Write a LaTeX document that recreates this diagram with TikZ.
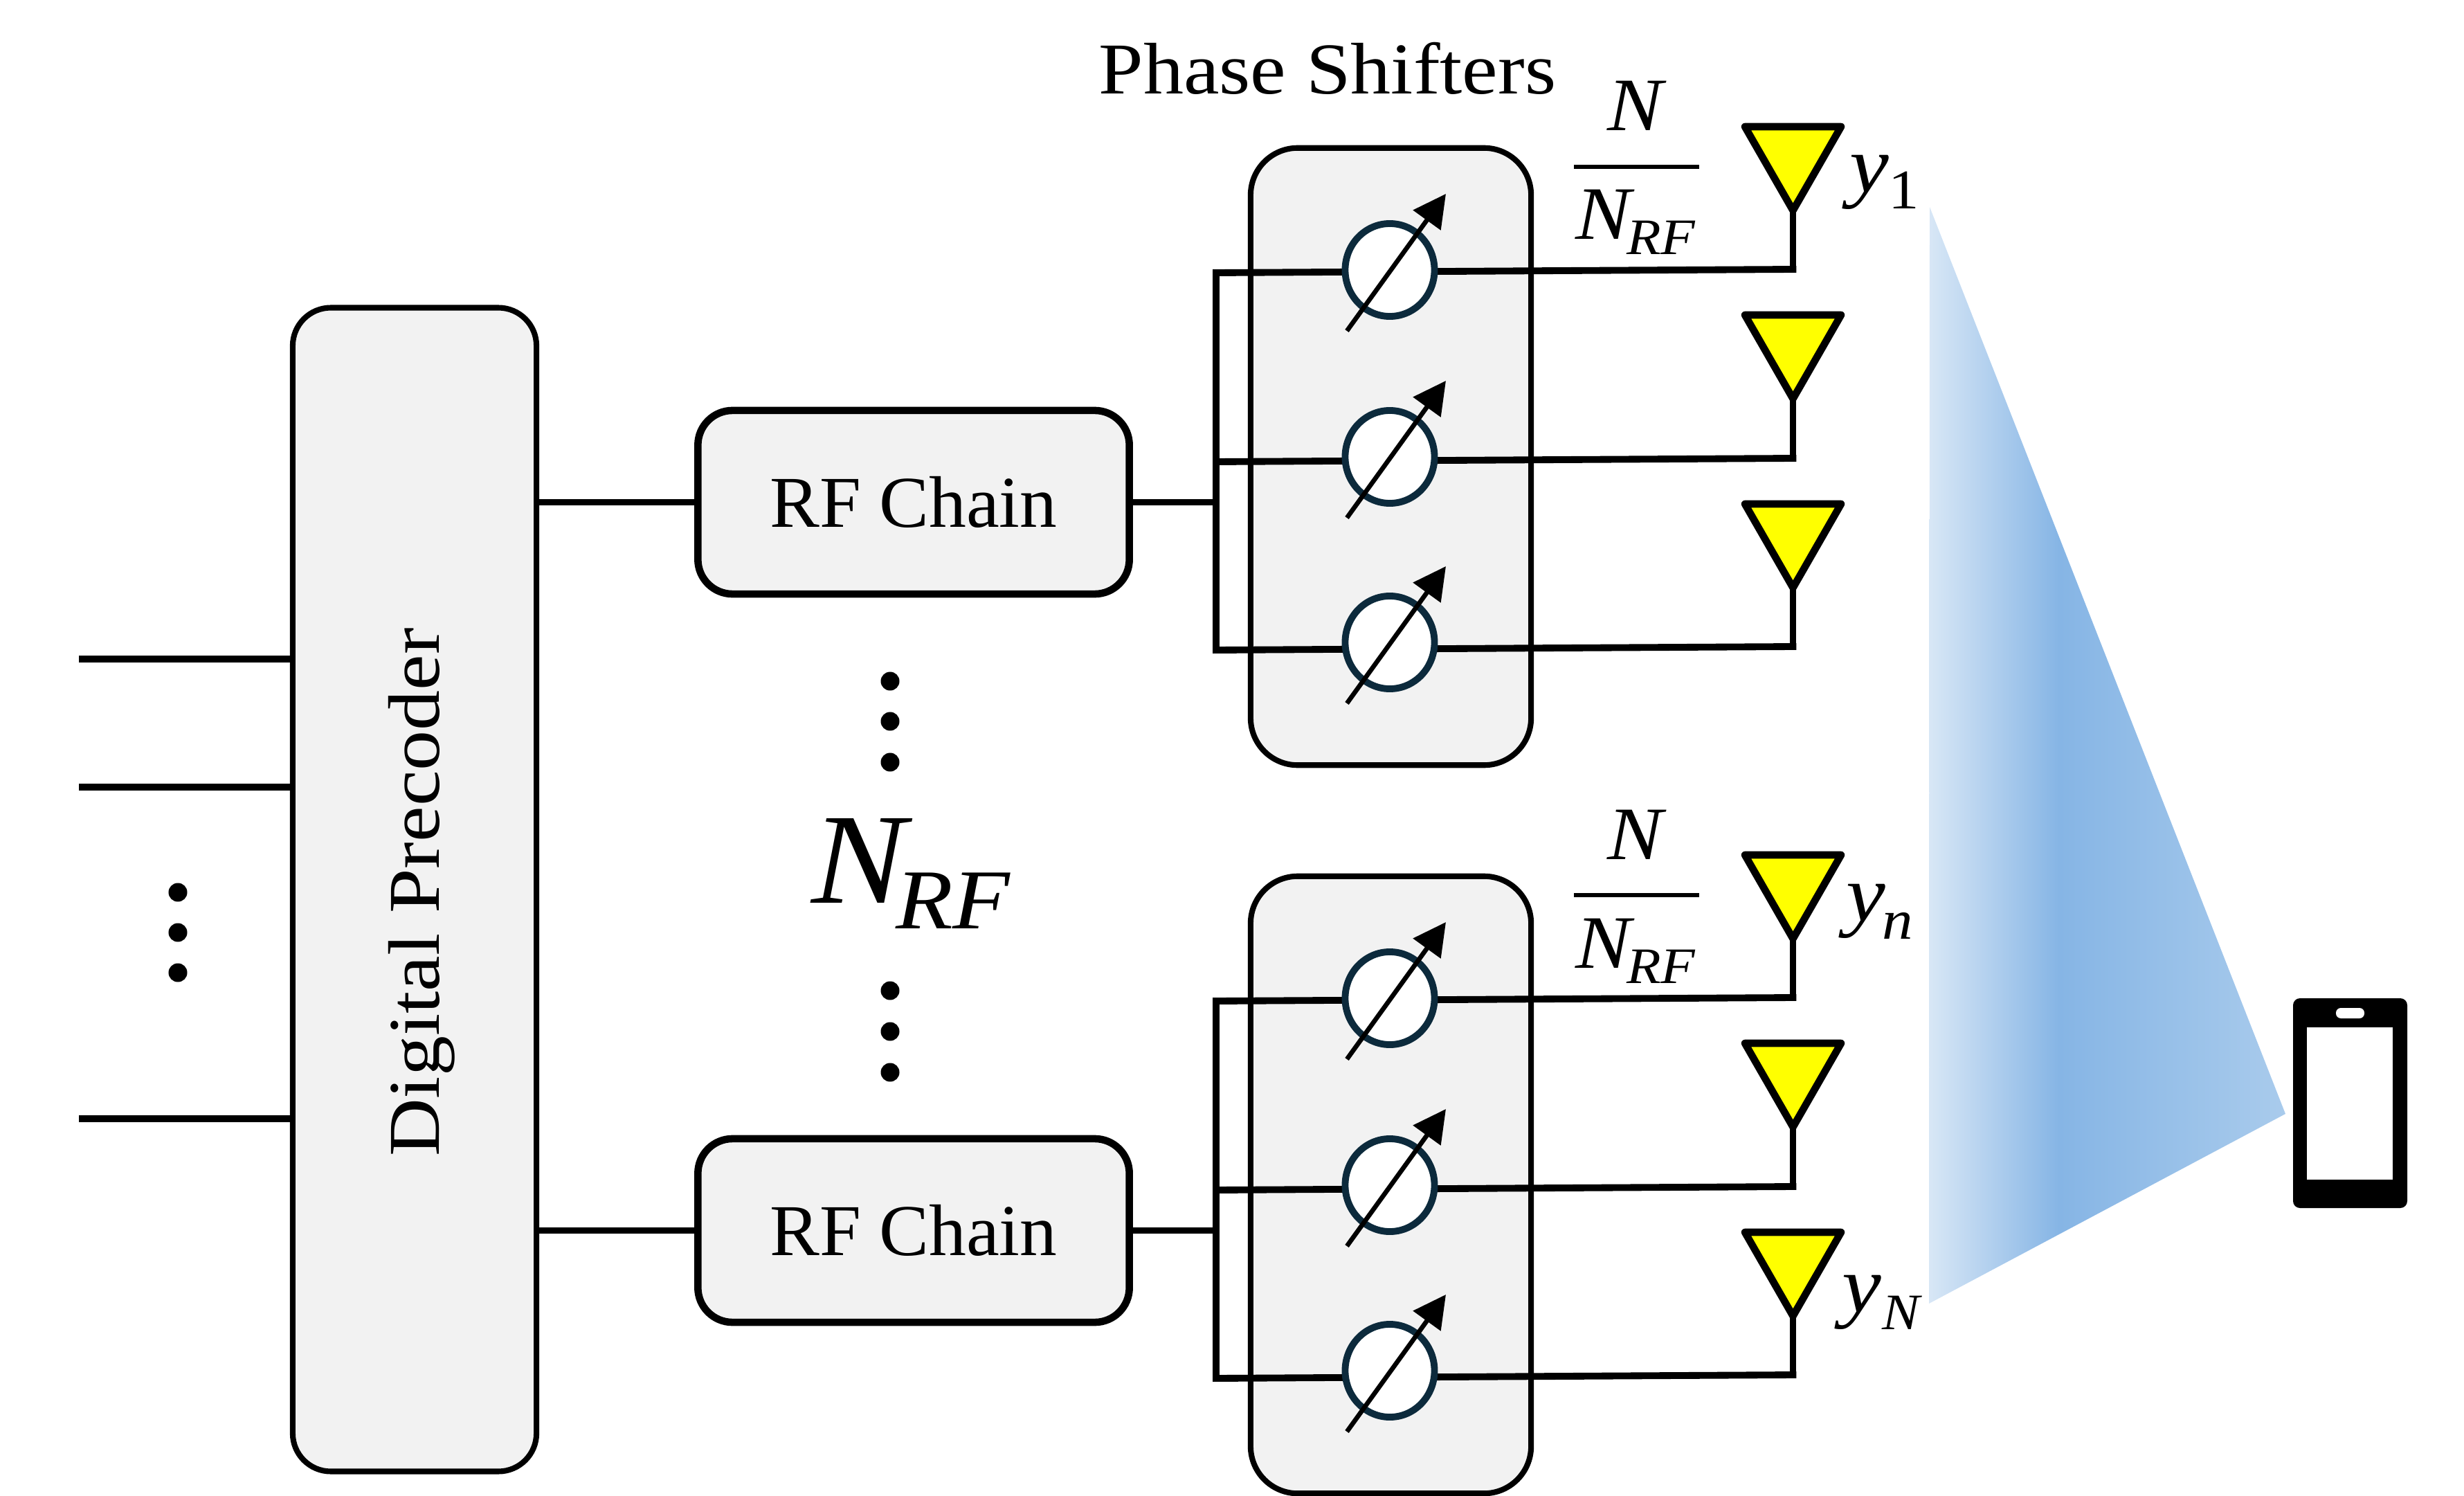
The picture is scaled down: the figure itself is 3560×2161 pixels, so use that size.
\documentclass[tikz,border=0pt]{standalone}
\usepackage{fontspec}
\setmainfont[FakeStretch=1.1]{Liberation Serif}
\newfontfamily\rffont[FakeStretch=1.02]{Liberation Serif}
\usetikzlibrary{arrows.meta,shapes.geometric}
\definecolor{boxfill}{HTML}{F2F2F2}
\definecolor{shiftline}{HTML}{0C2A3C}
\definecolor{antfill}{HTML}{FFFF00}
\definecolor{beamA}{HTML}{D8E7F6}
\definecolor{beamB}{HTML}{86B5E5}
\definecolor{beamC}{HTML}{A9CBEC}
\pgfdeclarehorizontalshading{beamshade}{100bp}{color(0bp)=(beamA); color(25bp)=(beamA); color(43.2bp)=(beamB); color(75bp)=(beamC); color(100bp)=(beamC)}
\newcommand{\fsz}[1]{\fontsize{#1}{#1}\selectfont}
\tikzset{
  wire/.style={line width=2.8pt,black},
  box/.style={draw=black,fill=boxfill,inner sep=0pt,outer sep=0pt,line width=2.3pt},
  rfbox/.style={box,line width=3pt,minimum width=6.23cm,minimum height=2.65cm,rounded corners=0.5cm,font=\rffont\fsz{30}},
  psbox/.style={box,line width=2.3pt,minimum width=4.05cm,minimum height=8.91cm,rounded corners=0.68cm},
  shifter/.style={ellipse,draw=shiftline,fill=white,line width=2.8pt,inner sep=0pt,outer sep=0pt,minimum width=1.29cm,minimum height=1.34cm},
  tune/.style={line width=1.9pt,black,-{Triangle[length=0.47cm,width=0.48cm]}},
  ant/.style={draw=black,fill=antfill,line width=3pt,line join=round},
  lbl/.style={inner sep=0pt,outer sep=0pt},
  vdot/.style={circle,fill=black,inner sep=0pt,minimum size=0.27cm}
}
\begin{document}
\begin{tikzpicture}[x=0.01cm,y=-0.01cm]
\useasboundingbox (0,0) rectangle (3560,2161);
% beam
\shade[shading=beamshade] (2788,299) -- (3302,1609) -- (2787,1883) -- cycle;
% precoder
\node[box,rounded corners=0.55cm,minimum width=3.52cm,minimum height=16.8cm] (dp) at (599,1285) {};
\node[lbl,rotate=90,anchor=base,font=\fsz{30}] (dptext) at (634,1289) {Digital Precoder};
% inputs
\foreach \n/\yy in {1/952,2/1137,3/1616}{
  \coordinate (in\n) at (114,\yy);
  \coordinate (inE\n) at (423,\yy);
  \draw[wire] (in\n) -- (inE\n);
}
\foreach \n/\yy in {1/1289,2/1347,3/1405}{\node[vdot] (ld\n) at (257,\yy) {};}
\foreach \n/\yy in {1/984,2/1042,3/1101,4/1431,5/1490,6/1549}{\node[vdot] (md\n) at (1286,\yy) {};}
% N_RF
\node[lbl,anchor=base west,font=\fsz{53}\itshape] (nrfN) at (1172,1304) {N};
\node[lbl,anchor=base west,font=\fsz{35}\itshape] (nrfS) at (1294,1341) {RF};
% titles
\node[lbl,anchor=base,font=\fsz{30}] (pstitle) at (1918,136) {Phase Shifters};
% groups
\foreach \g/\dy in {a/0,b/1052}{
  \node[psbox] (ps\g) at (2009.5,{659.5+\dy}) {};
  \node[rfbox] (rf\g) at (1320,{725.5+\dy}) {RF Chain};
  \draw[wire] (dp.east |- rf\g.west) -- (rf\g.west);
  \coordinate (busin\g) at (1757,{725.5+\dy});
  \draw[wire] (rf\g.east) -- (busin\g);
  \coordinate (bust\g) at (1757,{394+\dy});
  \coordinate (busb\g) at (1757,{939+\dy});
  \draw[wire,line cap=rect] (bust\g) -- (busb\g);
  \foreach \i/\ya/\yc/\yb/\anty in {1/394/390/389/183,2/667/660/662/455,3/939/928/934/728}{
    \coordinate (wl\g\i) at (1757,{\ya+\dy});
    \coordinate (wr\g\i) at (2590.5,{\yb+\dy});
    \coordinate (apex\g\i) at (2590.5,{\anty+121+\dy});
    \coordinate (foot\g\i) at (2590.5,{\yb+\dy});
    \draw[wire,line cap=rect] (wl\g\i) -- (wr\g\i);
    \node[shifter] (sh\g\i) at (2008,{\yc+\dy}) {};
    \draw[wire] (apex\g\i) -- (foot\g\i);
    \draw[ant] (2521,{\anty+\dy}) -- (2660,{\anty+\dy}) -- (apex\g\i) -- cycle;
    \coordinate (ta\g\i) at (1946,{\yc+88+\dy});
    \coordinate (tb\g\i) at (2089,{\yc-110+\dy});
    \draw[tune] (ta\g\i) -- (tb\g\i);
  }
  % fraction
  \node[lbl,anchor=base,font=\fsz{31}\itshape] (fn\g) at (2362,{189+\dy}) {N};
  \coordinate (fl\g) at (2274,{241+\dy});
  \coordinate (fr\g) at (2455,{241+\dy});
  \draw[black,line width=1.5pt] (fl\g) -- (fr\g);
  \node[lbl,anchor=base west,font=\fsz{31}\itshape] (fd\g) at (2276,{346+\dy}) {N};
  \node[lbl,anchor=base west,font=\fsz{21}\itshape] (fs\g) at (2350,{368+\dy}) {RF};
}
% y labels
\node[lbl,anchor=base west,font=\fsz{33}\itshape] (y1) at (2672,278) {y};
\node[lbl,anchor=base west,font=\fsz{23}] (y1s) at (2728,302) {1};
\node[lbl,anchor=base west,font=\fsz{33}\itshape] (yn) at (2667,1330) {y};
\node[lbl,anchor=base west,font=\fsz{23}\itshape] (yns) at (2719,1356) {n};
\node[lbl,anchor=base west,font=\fsz{33}\itshape] (yN) at (2661,1895) {y};
\node[lbl,anchor=base west,font=\fsz{21}\itshape] (yNs) at (2719,1920) {N};
% phone
\fill[black,rounded corners=0.1cm] (3313,1442) rectangle (3478,1745);
\fill[white] (3333,1484) rectangle (3457,1704);
\fill[white,rounded corners=0.07cm] (3375,1456) rectangle (3416,1471);
\end{tikzpicture}
\end{document}
